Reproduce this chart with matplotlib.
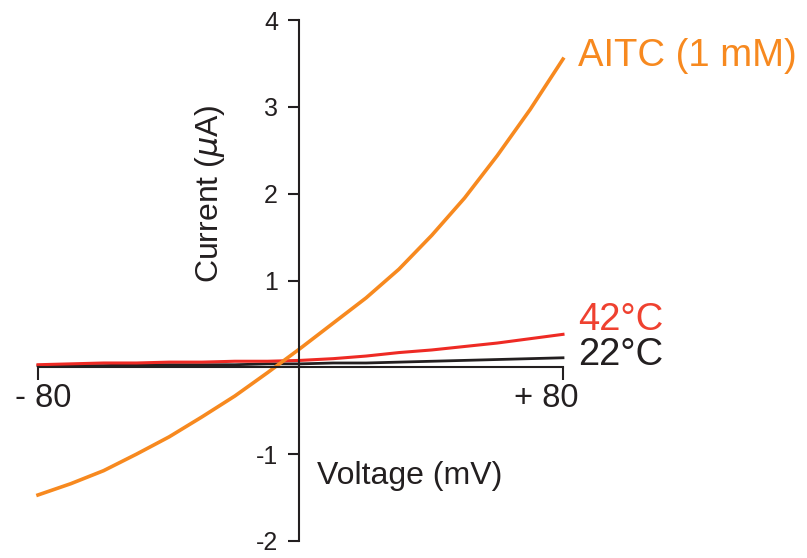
import matplotlib.pyplot as plt

plt.rcParams['font.family'] = ['Liberation Sans', 'DejaVu Sans']

# voltage (mV) / current (uA)
aitc_v = [-80, -70, -60, -50, -40, -30, -20, -10, 0, 10, 20, 30, 40, 50, 60, 70, 80]
aitc_i = [-1.47, -1.34, -1.19, -1.00, -0.80, -0.57, -0.33, -0.06, 0.22, 0.51,
          0.80, 1.13, 1.52, 1.95, 2.44, 2.97, 3.55]

warm_v = [-80, -70, -60, -50, -40, -30, -20, -10, 0, 10, 20, 30, 40, 50, 60, 70, 80]
warm_i = [0.03, 0.04, 0.05, 0.05, 0.06, 0.06, 0.07, 0.07, 0.08, 0.10, 0.13,
          0.17, 0.20, 0.24, 0.28, 0.33, 0.38]

room_v = [-80, -70, -60, -50, -40, -30, -20, -10, 0, 10, 20, 30, 40, 50, 60, 70, 80]
room_i = [0.02, 0.02, 0.02, 0.03, 0.03, 0.03, 0.03, 0.04, 0.04, 0.05, 0.05,
          0.06, 0.07, 0.08, 0.09, 0.10, 0.11]

y_ticks = [-2, -1, 0, 1, 2, 3, 4]
x_ticks = [-80, 80]
x_ticklabels = ['- 80', '+ 80']

orange = '#F7891F'
red = '#EE2A24'
dark = '#231F20'

fig = plt.figure(figsize=(8.07, 5.58), dpi=100)
ax = fig.add_axes([38 / 807, 1 - 541 / 558, 525 / 807, 521 / 558])

ax.plot(room_v, room_i, color=dark, lw=2.0, clip_on=False)
ax.plot(warm_v, warm_i, color=red, lw=2.2, clip_on=False)
ax.plot(aitc_v, aitc_i, color=orange, lw=2.6, clip_on=False)

ax.set_xlim(-80, 80)
ax.set_ylim(-2, 4)

ax.spines['left'].set_position(('data', -0.5))
ax.spines['bottom'].set_position(('data', 0))
ax.spines['right'].set_color('none')
ax.spines['top'].set_color('none')
for s in ('left', 'bottom'):
    ax.spines[s].set_linewidth(1.5)
    ax.spines[s].set_color(dark)
ax.spines['left'].set_bounds(-2, 4)
ax.spines['bottom'].set_bounds(-80, 80)

ax.set_yticks(y_ticks)
ax.set_yticklabels([str(t) for t in y_ticks], fontsize=18, color=dark)
ax.set_xticks(x_ticks)
ax.set_xticklabels([])
ax.tick_params(axis='y', direction='out', length=8, width=1.5, pad=7, color=dark)
ax.tick_params(axis='x', direction='out', length=9, width=1.5, color=dark)
# no "0" label on the y axis
ax.get_yticklabels()[2].set_visible(False)
ax.get_yticklines()[4].set_visible(False)

# x tick labels sit a little off their ticks in the original
ax.text(x_ticks[0] + 1.5, -0.36, x_ticklabels[0], fontsize=23.5, color=dark,
        ha='center', va='center')
ax.text(x_ticks[1] - 5, -0.36, x_ticklabels[1], fontsize=23.5, color=dark,
        ha='center', va='center')

ax.text(-27.5, 2.0, 'Current ($\\mu$A)', rotation=90, fontsize=23, color=dark,
        ha='center', va='center')
ax.text(5, -1.25, 'Voltage (mV)', fontsize=23, color=dark, ha='left', va='center')

ax.text(84.5, 3.58, 'AITC (1 mM)', fontsize=27.5, color=orange, ha='left',
        va='center', clip_on=False)
ax.text(84.5, 0.55, '42°C', fontsize=27.5, color='#EF4130', ha='left',
        va='center', clip_on=False)
ax.text(84.5, 0.14, '22°C', fontsize=27.5, color=dark, ha='left',
        va='center', clip_on=False)

fig.savefig('out.png', dpi=100)
